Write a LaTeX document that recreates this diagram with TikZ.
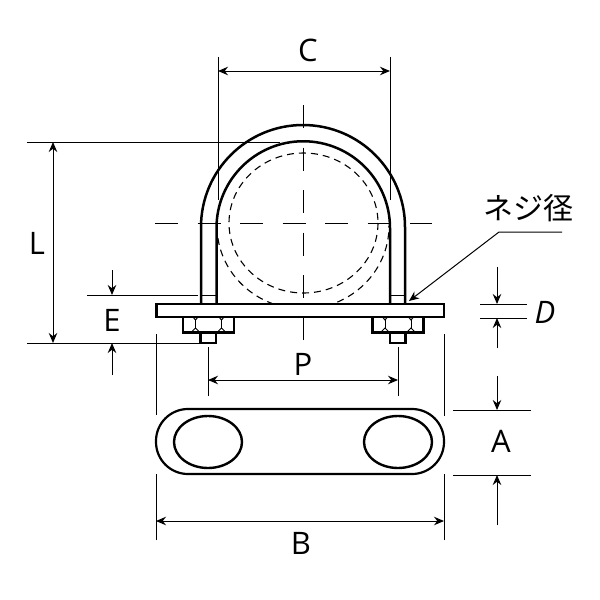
\documentclass[tikz,border=0pt]{standalone}
\usepackage{fontspec}
\setmainfont{Open Sans}
\newfontfamily\cjk{Noto Sans CJK JP}
\usetikzlibrary{arrows.meta}
\tikzset{
  part/.style={line width=2.5pt, fill=white},
  thinpart/.style={line width=1pt},
  hidden/.style={line width=1.1pt, dash pattern=on 7pt off 5pt},
  centre/.style={line width=0.9pt, dash pattern=on 23pt off 19.5pt},
  dimline/.style={line width=1pt, >={Stealth[length=10pt,width=8.5pt]}},
  letter/.style={font=\fontsize{31pt}{31pt}\selectfont, inner sep=0pt}
}
\begin{document}
\begin{tikzpicture}[x=1pt,y=-1pt]
\useasboundingbox (0,0) rectangle (600,600);

% centre lines and pipe
\draw[centre] (155,223) -- (432,223);
\draw[centre] (303,105) -- (303,340);
\draw[hidden] (303.5,223) ellipse[x radius=74.5, y radius=70];
\draw[hidden] (217,226) arc[start angle=180, end angle=0, x radius=86, y radius=83];

% u-bolt
\draw[line width=2.5pt] (201,304) -- (201,227) arc[start angle=180, end angle=360, radius=102] -- (405,304);
\draw[line width=2.5pt] (216.5,304) -- (216.5,228) arc[start angle=180, end angle=360, radius=86.75] -- (390,304);
\draw[thinpart] (201,295) -- (216.5,295);
\draw[thinpart] (390,295) -- (405,295);

% plate and nuts
\draw[part] (156.5,304) rectangle (444,317);
\foreach \nutx in {208.5,398}{
  \draw[part] (\nutx-8,332) rectangle (\nutx+7.5,343);
  \draw[part] (\nutx-25.5,317) rectangle (\nutx+25.5,332.5);
  \foreach \dx in {-13,13}{
    \draw[thinpart] (\nutx+\dx,319) -- (\nutx+\dx,328);
    \draw[thinpart] (\nutx+\dx-2.5,317) -- (\nutx+\dx,320) -- (\nutx+\dx+2.5,317);
    \draw[thinpart] (\nutx+\dx-4,332) -- (\nutx+\dx,328) -- (\nutx+\dx+4,332);
  }
}

% plate seen from above
\draw[line width=2.2pt, rounded corners=32pt] (156,409) rectangle (444,474);
\draw[line width=2.4pt] (208,442) ellipse[x radius=34, y radius=26];
\draw[line width=2.4pt] (398,442) ellipse[x radius=34, y radius=26];

% dimension C
\draw[dimline] (218,57) -- (218,200);
\draw[dimline] (390,57) -- (390,200);
\draw[dimline,<->] (218,71) -- (390,71);
\node[letter] (labelC) at (308,50) {C};

% dimension L
\draw[dimline] (27,142) -- (280,142);
\draw[dimline] (27,343) -- (200,343);
\draw[dimline,<->] (53,142) -- (53,343);
\node[letter] (labelL) at (37,243) {L};

% dimension E
\draw[dimline] (87,295) -- (198,295);
\draw[dimline,->] (112,270) -- (112,295);
\draw[dimline,->] (112,375) -- (112,343);
\node[letter] (labelE) at (112,320) {E};

% dimension P
\draw[dimline] (208,347) -- (208,396);
\draw[dimline] (398,347) -- (398,396);
\draw[dimline,<->] (208,380) -- (398,380);
\node[letter] (labelP) at (303,364) {P};

% dimension B
\draw[dimline] (156,334) -- (156,415);
\draw[dimline] (444,334) -- (444,416);
\draw[dimline] (156,474) -- (156,540);
\draw[dimline] (444,474) -- (444,540);
\draw[dimline,<->] (156,521) -- (444,521);
\node[letter] (labelB) at (301,543) {B};

% dimensions D and A
\draw[dimline] (480,304) -- (527,304);
\draw[dimline] (480,318) -- (527,318);
\draw[dimline,->] (497,267) -- (497,304);
\draw[dimline,->] (497,348) -- (497,318);
\node[letter,font=\fontsize{31pt}{31pt}\selectfont\itshape] (labelD) at (545,312) {D};
\draw[dimline] (453,410) -- (531,410);
\draw[dimline] (453,475) -- (531,475);
\draw[dimline,->] (497,376) -- (497,410);
\draw[dimline,->] (497,525) -- (497,475);
\node[letter] (labelA) at (501,441) {A};

% thread leader
\node[inner sep=0pt, font=\fontsize{30pt}{30pt}\selectfont\cjk] (thread) at (528,208) {ネジ径};
\coordinate (leadend) at (562,232);
\coordinate (leadbend) at (499,232);
\coordinate (leadtip) at (409,301);
\draw[dimline,->] (leadend) -- (leadbend) -- (leadtip);
\end{tikzpicture}
\end{document}
